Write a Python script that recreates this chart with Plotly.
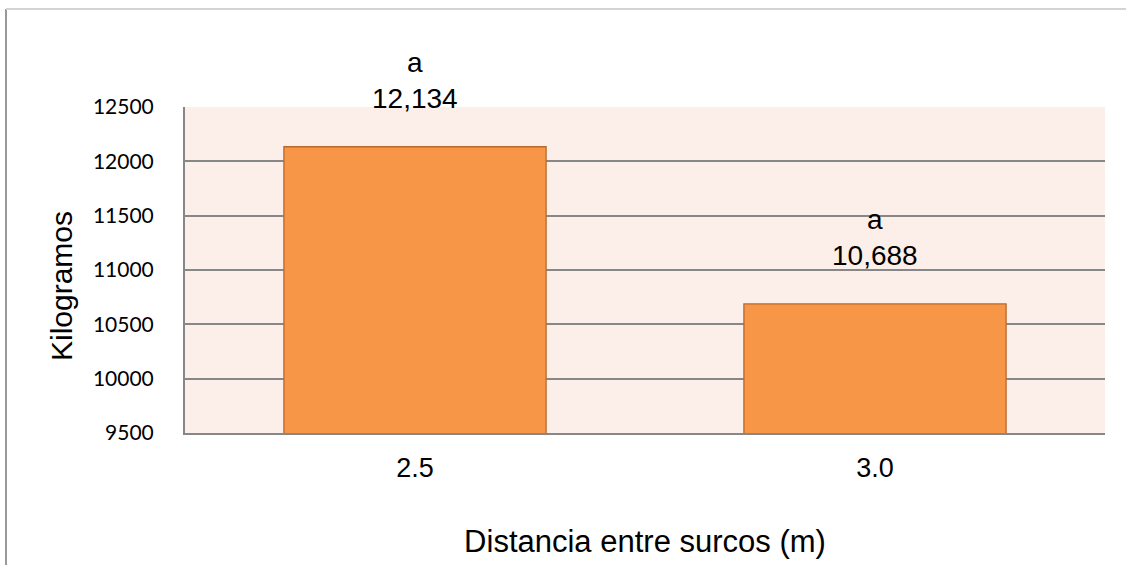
import plotly.graph_objects as go

# Rendimiento por distancia entre surcos
distancias = ["2.5", "3.0"]
kilogramos = [12134, 10688]
letras = ["a", "a"]
y_ticks = [9500, 10000, 10500, 11000, 11500, 12000, 12500]

BAR_FILL = "#F79646"
BAR_EDGE = "#B8692C"
GRID = "#878787"
PLOT_BG = "#FCEEE9"
TEXT_FONT = "Liberation Sans, Arial, sans-serif"

fig = go.Figure()
fig.add_trace(go.Bar(
    x=distancias,
    y=kilogramos,
    marker=dict(color=BAR_FILL, line=dict(color=BAR_EDGE, width=1.3)),
    hoverinfo="x+y",
))

# Letra de significancia y valor sobre cada barra
# (en un eje de categorías la posición x es el índice de la categoría)
for i, (v, l) in enumerate(zip(kilogramos, letras)):
    fig.add_annotation(
        x=i, y=v, xref="x", yref="y",
        text=f"{l}<br>{v:,}",
        showarrow=False, yanchor="bottom", yshift=31,
        font=dict(family=TEXT_FONT, size=28, color="#000000"),
    )

# Título del eje Y, algo desplazado hacia abajo respecto al centro del área
fig.add_annotation(
    x=-0.134, y=0.45, xref="paper", yref="paper",
    text="Kilogramos", textangle=-90,
    showarrow=False, xanchor="center", yanchor="middle",
    font=dict(family=TEXT_FONT, size=30, color="#000000"),
)

fig.update_layout(
    width=1126, height=565,
    margin=dict(l=185, r=21, t=107, b=132),
    paper_bgcolor="white",
    plot_bgcolor=PLOT_BG,
    bargap=0.43,
    showlegend=False,
    xaxis=dict(
        type="category",
        range=[-0.5, 1.5],
        showgrid=False,
        showline=True, linecolor=GRID, linewidth=2,
        ticks="", ticklabelstandoff=10,
        tickfont=dict(family=TEXT_FONT, size=27, color="#000000"),
        title=dict(text="Distancia entre surcos (m)", standoff=48,
                   font=dict(family=TEXT_FONT, size=31, color="#000000")),
    ),
    yaxis=dict(
        range=[9500, 12500],
        tickvals=y_ticks,
        ticktext=[str(t) for t in y_ticks],
        showgrid=True, gridcolor=GRID, gridwidth=2,
        showline=True, linecolor=GRID, linewidth=2,
        zeroline=False,
        ticks="", ticklabelstandoff=25,
        tickfont=dict(family="Lato, Carlito, sans-serif", size=21, color="#000000"),
    ),
    shapes=[
        # marco exterior del gráfico (izquierda y arriba)
        dict(type="line", xref="paper", yref="paper",
             x0=-179/920, x1=-179/920,
             y0=(565-132-9)/326, y1=-132/326,
             line=dict(color="#9A9A9A", width=2)),
        dict(type="line", xref="paper", yref="paper",
             x0=-179/920, x1=(1126-185)/920,
             y0=(565-132-9)/326, y1=(565-132-9)/326,
             line=dict(color="#D4D4D4", width=2)),
    ],
)

fig.write_html("out.html")
